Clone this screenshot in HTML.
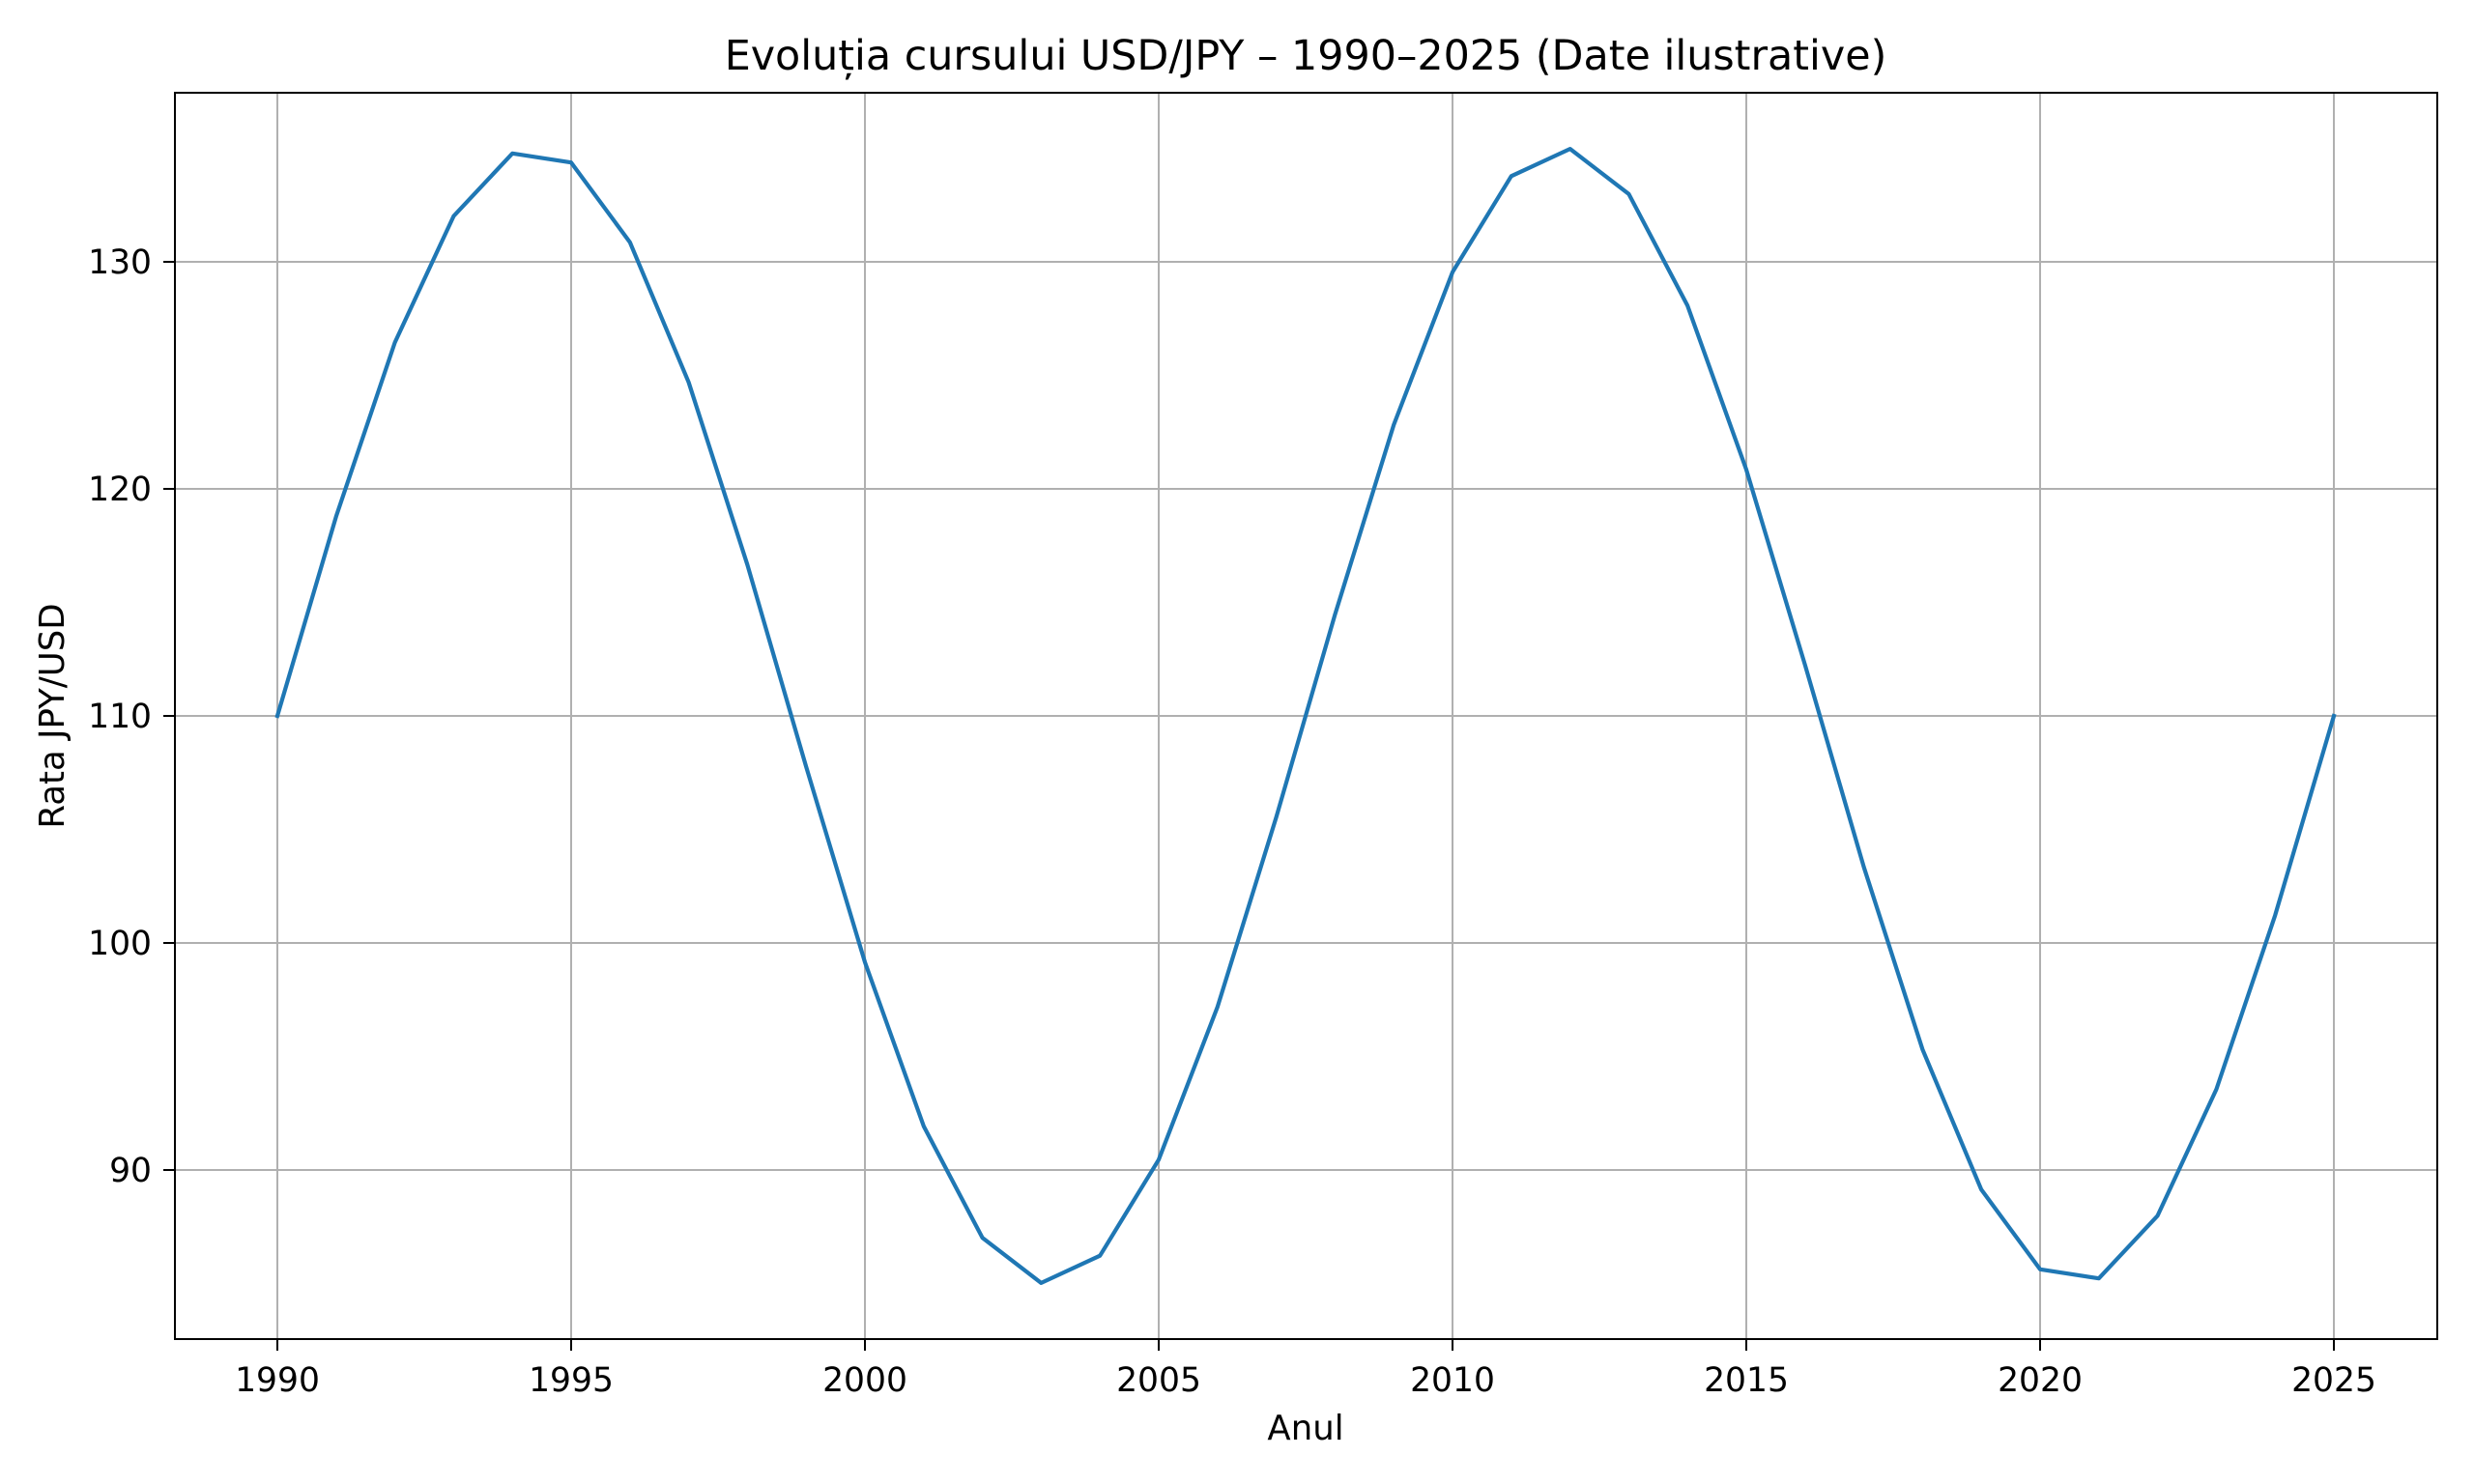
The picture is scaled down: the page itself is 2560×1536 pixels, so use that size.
<!DOCTYPE html>
<html><head><meta charset="utf-8"><style>
html,body{margin:0;padding:0;background:#fff;}
svg{display:block;font-family:"DejaVu Sans","Liberation Sans",sans-serif;}
</style></head><body>
<svg id="s" width="2560" height="1536" viewBox="0 0 2560 1536" xmlns="http://www.w3.org/2000/svg">
<rect width="2560" height="1536" fill="#fff"/>
<g id="grid" stroke="#b0b0b0" stroke-width="2"></g>
<polyline id="line" fill="none" stroke="#1f77b4" stroke-width="4.2" stroke-linejoin="round" stroke-linecap="square"/>
<rect x="181" y="96" width="2341" height="1290" fill="none" stroke="#000" stroke-width="2"/>
<g id="ticks" stroke="#000" stroke-width="2"></g>
<g id="labels" font-size="34.5" fill="#000"></g>
<text x="1351" y="72" font-size="42.8" text-anchor="middle">Evoluția cursului USD/JPY – 1990–2025 (Date ilustrative)</text>
<text x="1351" y="1490" font-size="35.5" text-anchor="middle">Anul</text>
<text transform="translate(66,741) rotate(-90)" font-size="35.5" text-anchor="middle">Rata JPY/USD</text>
</svg>
<script>
var NS="http://www.w3.org/2000/svg";
function X(t){return 287+(t-1990)*(2415-287)/35;}
function Y(v){return 271+(130-v)*23.5;}
function el(p,n,a,txt){var e=document.createElementNS(NS,n);for(var k in a)e.setAttribute(k,a[k]);if(txt)e.textContent=txt;document.getElementById(p).appendChild(e);}
for(var t=1990;t<=2025;t+=5){var x=X(t);
el("grid","line",{x1:x,x2:x,y1:96,y2:1386});
el("ticks","line",{x1:x,x2:x,y1:1386,y2:1398});
el("labels","text",{x:x,y:1440,"text-anchor":"middle"},""+t);}
for(var v=90;v<=130;v+=10){var y=Y(v);
el("grid","line",{x1:181,x2:2522,y1:y,y2:y});
el("ticks","line",{x1:169,x2:181,y1:y,y2:y});
el("labels","text",{x:157,y:y+12,"text-anchor":"end"},""+v);}
var pts=[];for(var t=1990;t<=2025;t++){pts.push(X(t).toFixed(1)+","+Y(110+25*Math.sin(2*Math.PI*(t-1990)/17.5)).toFixed(1));}
document.getElementById("line").setAttribute("points",pts.join(" "));
</script>
</body></html>
